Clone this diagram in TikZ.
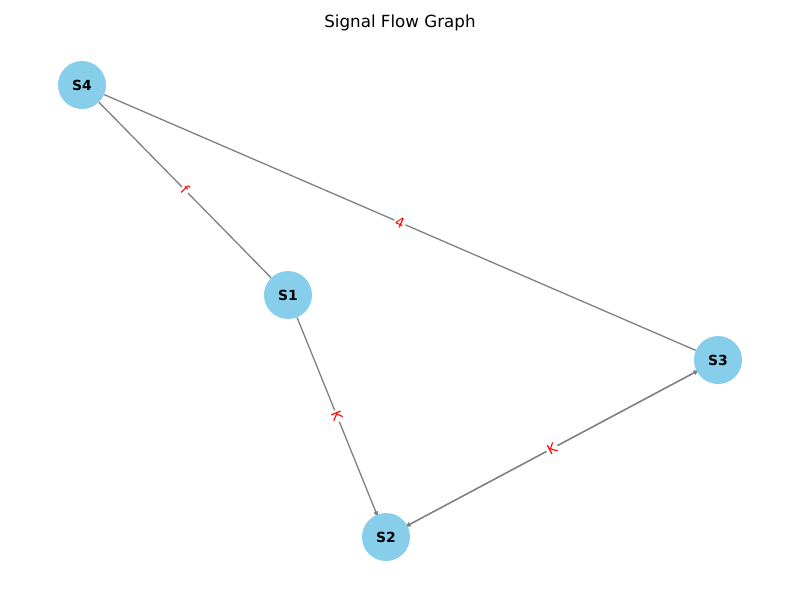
\documentclass[tikz,border=0pt]{standalone}
\usepackage{fontspec}
\setmainfont{DejaVu Sans}
\usetikzlibrary{arrows.meta}
\definecolor{skyblue}{HTML}{87CEEB}
\definecolor{edgegray}{HTML}{808080}
\pgfdeclarelayer{bg}
\pgfsetlayers{bg,main}
\begin{document}
\begin{tikzpicture}[x=1pt,y=-1pt,
  state/.style={circle,fill=skyblue,minimum size=48pt,inner sep=0pt,font=\fontsize{13.9}{16}\selectfont\bfseries},
  edge/.style={draw=edgegray,line width=1.3pt},
  arr/.style={edge,-{Stealth[length=6pt,width=4.5pt,inset=0pt]},shorten >=-3pt},
  elabel/.style={fill=white,inner sep=1.5pt,text=red,font=\fontsize{13.9}{16}\selectfont,sloped,pos=0.5}]
\useasboundingbox (0,0) rectangle (800,600);
\node[font=\fontsize{16.7}{20}\selectfont] (title) at (400,23) {Signal Flow Graph};
\node[state] (S4) at (82,85) {S4};
\node[state] (S1) at (288,295) {S1};
\node[state] (S3) at (718,360) {S3};
\node[state] (S2) at (386,537) {S2};
\begin{pgfonlayer}{bg}
\path[edge] (S4) -- (S1);
\path[edge] (S4) -- (S3);
\path[arr] (S1) -- (S2);
\path[arr] (S3) -- (S2);
\path[arr] (S2) -- (S3);
\end{pgfonlayer}
\path (S4) -- node[elabel] (lf) {f} (S1);
\path (S4) -- node[elabel] (l4) {4} (S3);
\path (S1) -- node[elabel] (lk1) {K} (S2);
\path (S2) -- node[elabel] (lk2) {K} (S3);
\end{tikzpicture}
\end{document}
